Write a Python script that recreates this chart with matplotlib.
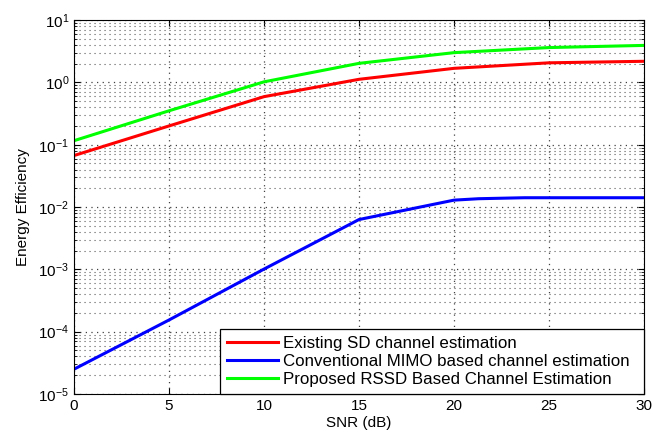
import numpy as np
import matplotlib
matplotlib.use("Agg")
import matplotlib.pyplot as plt
from matplotlib.ticker import LogLocator, FixedLocator, NullFormatter

plt.rcParams['font.family'] = ['Liberation Sans', 'DejaVu Sans']
plt.rcParams['mathtext.fontset'] = 'custom'
plt.rcParams['mathtext.rm'] = 'Liberation Sans'

# SNR sweep and energy efficiency per scheme
snr_db = [0, 5, 10, 15, 20, 25, 30]
ee_existing_sd = [0.067, 0.20, 0.59, 1.12, 1.68, 2.06, 2.18]
ee_proposed_rssd = [0.116, 0.35, 1.02, 2.02, 3.00, 3.62, 3.92]

snr_db_mimo = [0, 5, 10, 15, 20, 21.3, 23.7, 30]
ee_conv_mimo = [2.5e-5, 1.54e-4, 1.01e-3, 6.3e-3, 0.0129, 0.0136, 0.0141, 0.0141]

labels = ['Existing SD channel estimation',
          'Conventional MIMO based channel estimation',
          'Proposed RSSD Based Channel Estimation']

fig = plt.figure(figsize=(6.53, 4.36), dpi=100)
ax = fig.add_axes([0.1133, 0.0963, 0.8729, 0.8577])

ax.semilogy(snr_db, ee_existing_sd, color='#ff0000', lw=2.2, label=labels[0])
ax.semilogy(snr_db_mimo, ee_conv_mimo, color='#0000ff', lw=2.2, label=labels[1])
ax.semilogy(snr_db, ee_proposed_rssd, color='#00ff00', lw=2.2, label=labels[2])

ax.set_xlim(0, 30)
ax.set_ylim(1e-5, 1e1)
ax.xaxis.set_major_locator(FixedLocator([0, 5, 10, 15, 20, 25, 30]))
ax.yaxis.set_major_locator(LogLocator(base=10, numticks=10))
ax.yaxis.set_minor_locator(LogLocator(base=10, subs=np.arange(2, 10), numticks=20))
ax.yaxis.set_minor_formatter(NullFormatter())

# matlab-like sparse dotted grid
dots = (0, (1, 3.5))
ax.grid(True, which='major', linestyle=dots, color='0.25', lw=0.9)
ax.grid(True, which='minor', axis='y', linestyle=dots, color='0.35', lw=0.8)

ax.tick_params(which='both', direction='in', top=True, right=True, labelsize=11)
ax.tick_params(which='major', length=4)
ax.tick_params(which='minor', length=2)
for s in ax.spines.values():
    s.set_linewidth(0.8)

ax.set_xlabel('SNR (dB)', fontsize=11, labelpad=2)
ax.set_ylabel('Energy Efficiency', fontsize=11, labelpad=6)

# legend box stretched over the lower right corner, entries left aligned
leg = ax.legend(loc='lower left', bbox_to_anchor=(0.2561, 0.0, 0.7439, 0.2),
                mode='expand', fontsize=12.2, fancybox=False, framealpha=1,
                edgecolor='black', borderaxespad=0, handlelength=3.0,
                handletextpad=0.3, labelspacing=0.18, borderpad=0.4)
leg.get_frame().set_linewidth(0.9)

fig.savefig('out.png', dpi=100)
